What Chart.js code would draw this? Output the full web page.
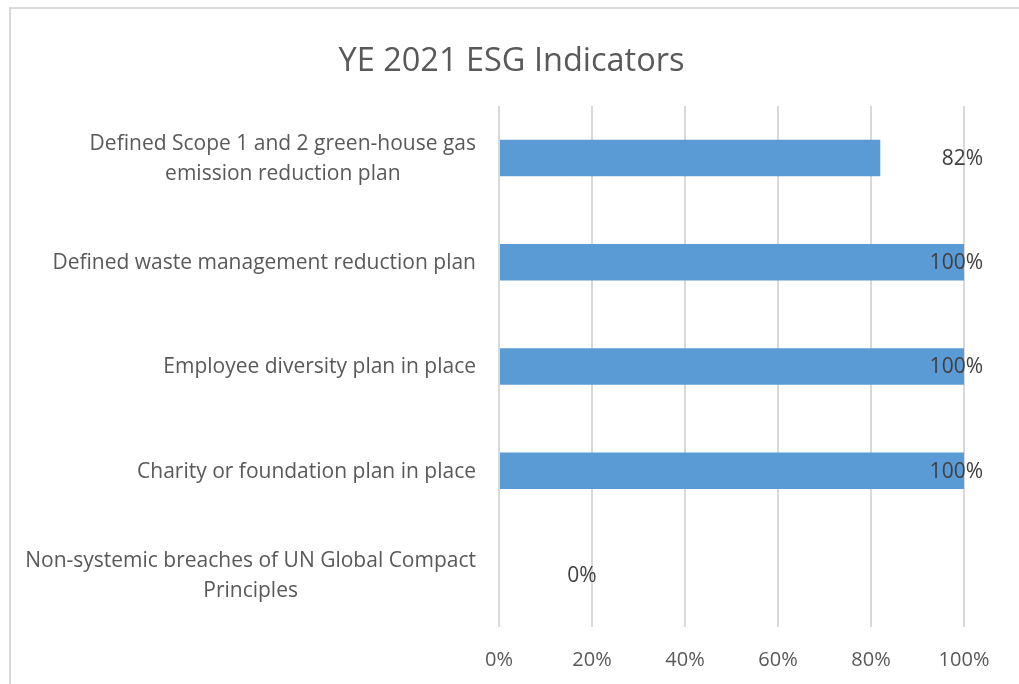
<!DOCTYPE html>
<html>
<head>
<meta charset="utf-8">
<script src="https://cdn.jsdelivr.net/npm/chart.js@4"></script>
<style>
  html, body { margin: 0; padding: 0; background: #fff; overflow: hidden; }
  #frame { position: absolute; left: 9px; top: 7px; width: 1040px; height: 720px; border: 2px solid #d9d9d9; }
  #wrap { position: absolute; left: 0; top: 0; width: 1019px; height: 684px; }
</style>
</head>
<body>
<div id="frame"></div>
<div id="wrap"><canvas id="esgChart"></canvas></div>
<script>
// Data
const chartTitle = 'YE 2021 ESG Indicators';
const categories = [
    ['Defined Scope 1 and 2 green-house gas', 'emission reduction plan'],
    'Defined waste management reduction plan',
    'Employee diversity plan in place',
    'Charity or foundation plan in place',
    ['Non-systemic breaches of UN Global Compact', 'Principles']
];
const values = [82, 100, 100, 100, 0];
const tickValues = [0, 20, 40, 60, 80, 100];

const fontFamily = '"Open Sans", Lato, sans-serif';

// Title centred on the whole frame, not on the plot
const frameTitle = {
    id: 'frameTitle',
    afterDraw(chart) {
        const ctx = chart.ctx;
        ctx.save();
        ctx.font = '32.5px ' + fontFamily;
        ctx.fillStyle = '#595959';
        ctx.textBaseline = 'middle';
        ctx.textAlign = 'center';
        ctx.fillText(chartTitle, chart.width / 2 + 2, 62);
        ctx.restore();
    }
};

// Category labels: block right-aligned to the axis, lines centred in the block
const categoryLabels = {
    id: 'categoryLabels',
    afterDraw(chart) {
        const ctx = chart.ctx;
        const yScale = chart.scales.y;
        const right = chart.chartArea.left - 23;
        const lineH = 30;
        ctx.save();
        ctx.font = '21px ' + fontFamily;
        ctx.fillStyle = '#595959';
        ctx.textBaseline = 'middle';
        ctx.textAlign = 'center';
        categories.forEach((label, i) => {
            const lines = Array.isArray(label) ? label : [label];
            const maxW = Math.max(...lines.map(l => ctx.measureText(l).width));
            const cx = right - maxW / 2;
            const cy = yScale.getPixelForTick(i) + 1;
            lines.forEach((l, j) => {
                ctx.fillText(l, cx, cy + (j - (lines.length - 1) / 2) * lineH);
            });
        });
        ctx.restore();
    }
};

// Labels at the end of bars, kept inside the frame (Excel style)
const valueLabels = {
    id: 'valueLabels',
    afterDatasetsDraw(chart) {
        const ctx = chart.ctx;
        const meta = chart.getDatasetMeta(0);
        const xScale = chart.scales.x;
        const limit = chart.chartArea.right + 19;
        ctx.save();
        ctx.font = '21px ' + fontFamily;
        ctx.fillStyle = '#404040';
        ctx.textBaseline = 'middle';
        ctx.textAlign = 'center';
        meta.data.forEach((bar, i) => {
            const text = values[i] + '%';
            const w = ctx.measureText(text).width;
            let x = xScale.getPixelForValue(values[i]) + 83;
            if (x + w / 2 > limit) x = limit - w / 2;
            ctx.fillText(text, x, bar.y + 1);
        });
        ctx.restore();
    }
};

new Chart(document.getElementById('esgChart'), {
    type: 'bar',
    data: {
        labels: categories,
        datasets: [{
            data: values,
            backgroundColor: '#5b9bd5',
            borderWidth: 0,
            categoryPercentage: 1,
            barPercentage: 0.35
        }]
    },
    options: {
        indexAxis: 'y',
        responsive: true,
        maintainAspectRatio: false,
        animation: false,
        layout: { padding: { left: 0, right: 55, top: 106, bottom: 0 } },
        plugins: {
            legend: { display: false },
            tooltip: { enabled: false },
            title: { display: false }
        },
        scales: {
            x: {
                min: 0,
                max: 100,
                afterBuildTicks(scale) {
                    scale.ticks = tickValues.map(v => ({ value: v }));
                },
                afterFit(scale) { scale.height = 57; },
                grid: { color: '#d9d9d9', lineWidth: 2, drawTicks: false },
                border: { display: false },
                ticks: {
                    color: '#595959',
                    padding: 21,
                    font: { family: fontFamily, size: 20 },
                    callback: v => v + '%'
                }
            },
            y: {
                afterFit(scale) { scale.width = 499; },
                grid: { display: false },
                border: { display: false },
                ticks: { display: false }
            }
        }
    },
    plugins: [valueLabels, categoryLabels, frameTitle]
});
</script>
</body>
</html>
